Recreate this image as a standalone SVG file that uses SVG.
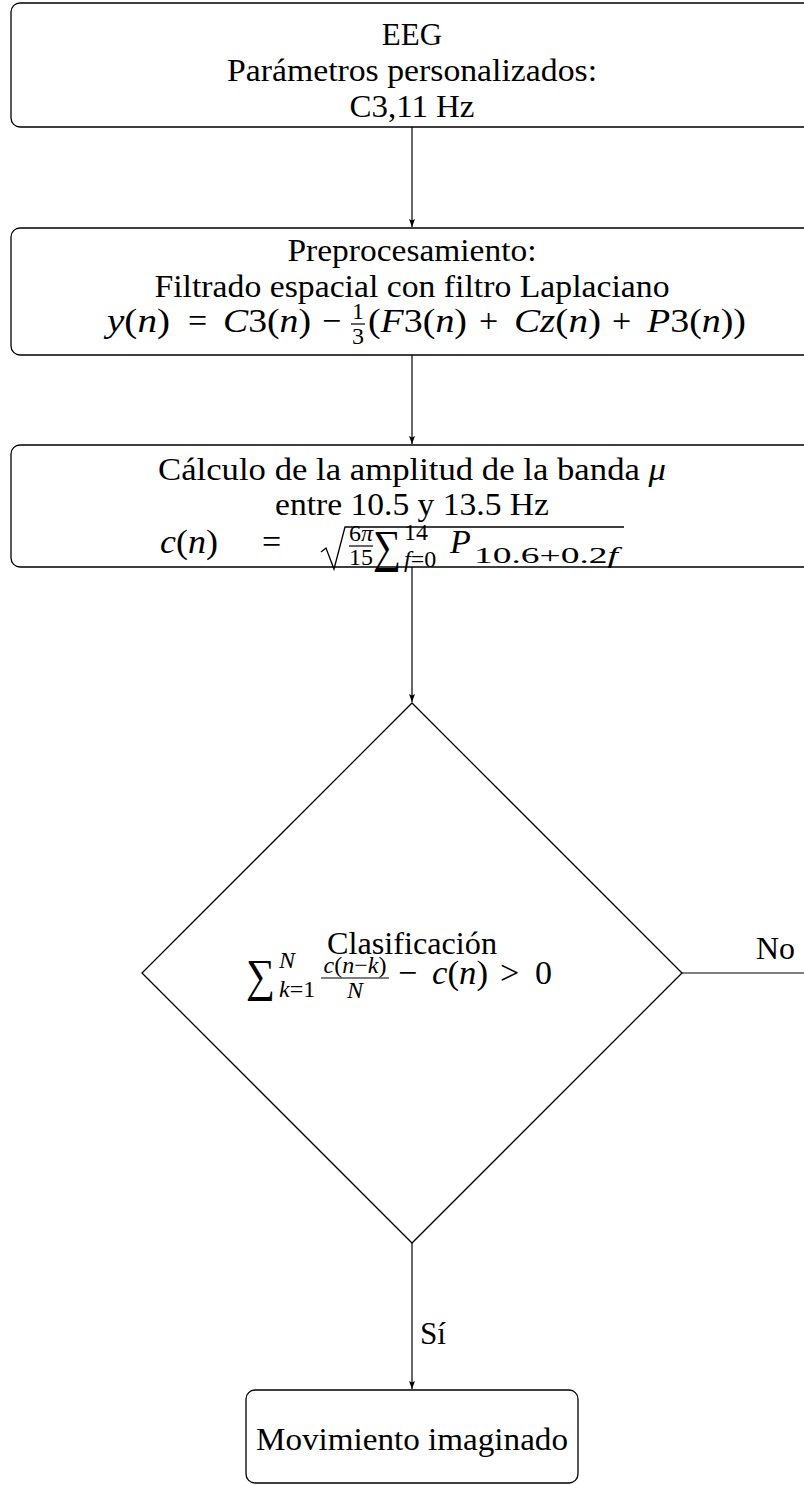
<svg xmlns="http://www.w3.org/2000/svg" width="804" height="1485" viewBox="0 0 804 1485" font-family="'Liberation Serif', 'DejaVu Serif', serif">
<defs>
<marker id="arr" markerUnits="userSpaceOnUse" viewBox="0 0 8 6" markerWidth="8" markerHeight="6" refX="8" refY="3" orient="auto">
<path d="M0,0 L8,3 L0,6 L1.5,3 Z" fill="#000"/>
</marker>
<style>
.box{fill:#fff;stroke:#000;stroke-width:1.3}
.ln{fill:none;stroke:#000;stroke-width:1.2}
.t{font-size:31px;fill:#000}
.c{text-anchor:middle}
.m{font-size:34px;fill:#000}
.s{font-size:24px;fill:#000}
.big{font-size:46px;fill:#000}
.i{font-style:italic}
.bar{stroke:#000;stroke-width:1.2}
.rad{fill:none;stroke:#000;stroke-width:1.3;stroke-linejoin:miter}
</style>
</defs>
<rect width="804" height="1485" fill="#fff"/>

<g id="connectors">
<line class="ln" x1="412" y1="127" x2="412" y2="227" marker-end="url(#arr)"/>
<line class="ln" x1="412" y1="355" x2="412" y2="444" marker-end="url(#arr)"/>
<line class="ln" x1="412" y1="567" x2="412" y2="702" marker-end="url(#arr)"/>
<line class="ln" x1="412" y1="1243" x2="412" y2="1389" marker-end="url(#arr)"/>
<line class="ln" x1="682" y1="973" x2="810" y2="973"/>
<text class="t" x="756" y="959" textLength="39" lengthAdjust="spacingAndGlyphs">No</text>
<text class="t" x="420" y="1344" textLength="26" lengthAdjust="spacingAndGlyphs">Sí</text>
</g>

<g id="eeg">
<rect class="box" x="11" y="3" width="802" height="124" rx="9"/>
<text class="t c" x="412" y="45">EEG</text>
<text class="t c" x="412" y="81" textLength="370" lengthAdjust="spacingAndGlyphs">Parámetros personalizados:</text>
<text class="t c" x="412" y="117" textLength="125" lengthAdjust="spacingAndGlyphs">C3,11 Hz</text>
</g>

<g id="preprocesamiento">
<rect class="box" x="11" y="228" width="802" height="127" rx="9"/>
<text class="t c" x="412" y="261" textLength="249" lengthAdjust="spacingAndGlyphs">Preprocesamiento:</text>
<text class="t c" x="412" y="297" textLength="515" lengthAdjust="spacingAndGlyphs">Filtrado espacial con filtro Laplaciano</text>
<text class="m" x="107" y="332" textLength="63" lengthAdjust="spacingAndGlyphs"><tspan class="i">y</tspan>(<tspan class="i">n</tspan>)</text>
<text class="m" x="188" y="332">=</text>
<text class="m" x="223" y="332" textLength="88" lengthAdjust="spacingAndGlyphs"><tspan class="i">C</tspan>3(<tspan class="i">n</tspan>)</text>
<text class="m" x="322" y="332">−</text>
<text class="s c" x="358" y="319">1</text>
<line class="bar" x1="351" y1="324" x2="365" y2="324"/>
<text class="s c" x="358" y="344">3</text>
<text class="m" x="368" y="332" textLength="99" lengthAdjust="spacingAndGlyphs">(<tspan class="i">F</tspan>3(<tspan class="i">n</tspan>)</text>
<text class="m" x="479" y="332">+</text>
<text class="m" x="514" y="332" textLength="87" lengthAdjust="spacingAndGlyphs"><tspan class="i">Cz</tspan>(<tspan class="i">n</tspan>)</text>
<text class="m" x="612" y="332">+</text>
<text class="m" x="647" y="332" textLength="99" lengthAdjust="spacingAndGlyphs"><tspan class="i">P</tspan>3(<tspan class="i">n</tspan>))</text>
</g>

<g id="calculo">
<rect class="box" x="11" y="445" width="802" height="122" rx="9"/>
<text class="t c" x="412" y="480" textLength="508" lengthAdjust="spacingAndGlyphs">Cálculo de la amplitud de la banda <tspan class="i">μ</tspan></text>
<text class="t c" x="412" y="515" textLength="274" lengthAdjust="spacingAndGlyphs">entre 10.5 y 13.5 Hz</text>
<text class="m" x="160" y="553" textLength="58" lengthAdjust="spacingAndGlyphs"><tspan class="i">c</tspan>(<tspan class="i">n</tspan>)</text>
<text class="m" x="262" y="553">=</text>
<polyline class="rad" points="321,552 326,548 334,569 345,527 624,527"/>
<text class="s c" x="361" y="541">6<tspan class="i">π</tspan></text>
<line class="bar" x1="349" y1="546" x2="373" y2="546"/>
<text class="s c" x="361" y="565">15</text>
<text class="big" x="373" y="562" textLength="28" lengthAdjust="spacingAndGlyphs">∑</text>
<text class="s" x="404" y="540">14</text>
<text class="s" x="404" y="567"><tspan class="i">f</tspan>=0</text>
<text class="m i" x="450" y="553">P</text>
<text class="s" x="474" y="563" textLength="144" lengthAdjust="spacingAndGlyphs">10.6+0.2<tspan class="i">f</tspan></text>
</g>

<g id="clasificacion">
<polygon class="box" points="412,703 682,973 412,1243 142,973"/>
<text class="t c" x="412" y="954" textLength="170" lengthAdjust="spacingAndGlyphs">Clasificación</text>
<text class="big" x="246" y="991" textLength="29" lengthAdjust="spacingAndGlyphs">∑</text>
<text class="s i" x="279" y="968">N</text>
<text class="s" x="279" y="997"><tspan class="i">k</tspan>=1</text>
<text class="s c" x="355" y="973"><tspan class="i">c</tspan>(<tspan class="i">n</tspan>−<tspan class="i">k</tspan>)</text>
<line class="bar" x1="321" y1="978" x2="389" y2="978"/>
<text class="s c i" x="355" y="998">N</text>
<text class="m" x="398" y="984">−</text>
<text class="m" x="432" y="984" textLength="56" lengthAdjust="spacingAndGlyphs"><tspan class="i">c</tspan>(<tspan class="i">n</tspan>)</text>
<text class="m" x="500" y="984">&gt;</text>
<text class="m" x="535" y="984">0</text>
</g>

<g id="movimiento">
<rect class="box" x="246" y="1390" width="332" height="93" rx="9"/>
<text class="t c" x="412" y="1450" textLength="312" lengthAdjust="spacingAndGlyphs">Movimiento imaginado</text>
</g>
</svg>
